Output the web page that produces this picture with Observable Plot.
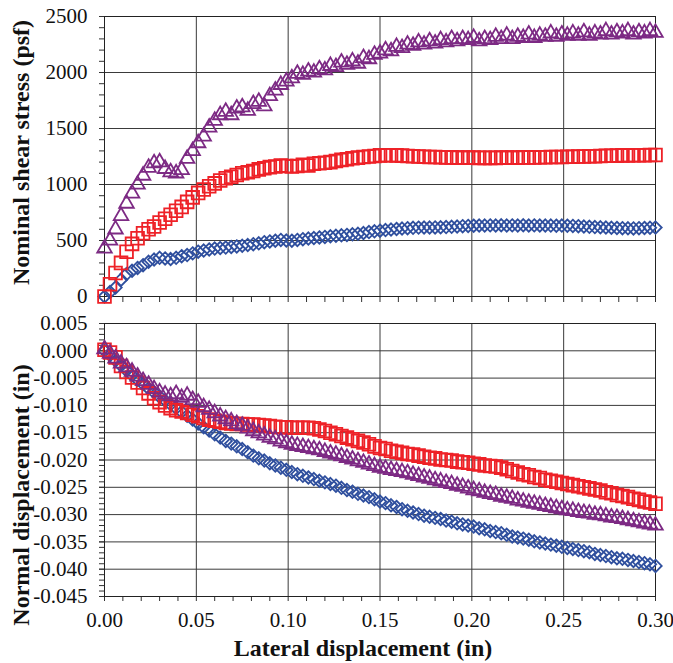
<!DOCTYPE html>
<html><head><meta charset="utf-8">
<script src="https://cdn.jsdelivr.net/npm/d3@7"></script>
<script src="https://cdn.jsdelivr.net/npm/@observablehq/plot@0.6"></script>
<style>
body{margin:0;background:#fff;}
#chart{position:relative;width:673px;height:663px;background:#fff;}
#chart svg{display:block;}
</style></head><body><div id="chart"></div>
<script>
// Lateral displacement (in)
const lateral = [0.000,0.003,0.006,0.009,0.012,0.015,0.018,0.021,0.024,0.027,0.030,0.033,0.036,0.039,0.042,0.045,0.048,0.051,0.054,0.057,0.060,0.063,0.066,0.069,0.072,0.075,0.078,0.081,0.084,0.087,0.090,0.093,0.096,0.099,0.102,0.105,0.108,0.111,0.114,0.117,0.120,0.123,0.126,0.129,0.132,0.135,0.138,0.141,0.144,0.147,0.150,0.153,0.156,0.159,0.162,0.165,0.168,0.171,0.174,0.177,0.180,0.183,0.186,0.189,0.192,0.195,0.198,0.201,0.204,0.207,0.210,0.213,0.216,0.219,0.222,0.225,0.228,0.231,0.234,0.237,0.240,0.243,0.246,0.249,0.252,0.255,0.258,0.261,0.264,0.267,0.270,0.273,0.276,0.279,0.282,0.285,0.288,0.291,0.294,0.297,0.300];

// Nominal shear stress (psf)
const shearDiamond = [0,40,80,150,200,230,255,280,310,330,345,340,335,345,360,370,385,400,410,420,428,433,437,442,447,453,460,467,475,485,492,498,505,500,498,505,512,518,522,527,532,537,542,546,550,555,560,567,575,582,588,593,598,603,607,610,613,615,616,616,617,618,620,622,625,628,630,632,634,634,635,634,636,634,635,634,636,634,635,634,634,633,632,633,632,630,628,625,622,620,618,616,614,612,610,609,608,610,612,614,616];
const shearSquare = [0,110,210,300,400,470,520,565,600,625,660,695,730,765,800,845,885,925,955,985,1010,1035,1055,1070,1085,1100,1110,1120,1135,1145,1155,1160,1170,1165,1160,1165,1175,1170,1185,1190,1195,1200,1210,1220,1225,1235,1240,1245,1250,1255,1260,1262,1262,1260,1258,1255,1252,1250,1248,1245,1245,1243,1242,1242,1240,1240,1240,1240,1238,1238,1238,1238,1240,1240,1240,1240,1242,1242,1242,1243,1243,1245,1245,1245,1247,1248,1250,1250,1252,1253,1255,1256,1257,1258,1260,1260,1261,1262,1262,1263,1263];
const shearTriangle = [430,500,600,720,830,920,1000,1080,1150,1190,1200,1140,1110,1100,1130,1230,1300,1370,1430,1510,1570,1620,1650,1620,1680,1690,1660,1720,1740,1700,1790,1840,1890,1920,1950,1990,1980,2010,2000,2030,2020,2060,2050,2090,2070,2100,2080,2130,2120,2160,2170,2200,2190,2230,2220,2250,2240,2270,2250,2280,2260,2290,2270,2300,2280,2300,2290,2310,2280,2300,2290,2320,2300,2330,2300,2320,2310,2340,2310,2330,2320,2350,2320,2340,2330,2350,2330,2360,2330,2350,2340,2370,2340,2360,2350,2370,2340,2360,2350,2370,2355];

// Normal displacement (in)
const normalDiamond = [0.0000,-0.0008,-0.0018,-0.0027,-0.0036,-0.0045,-0.0053,-0.0061,-0.0069,-0.0076,-0.0084,-0.0091,-0.0098,-0.0105,-0.0112,-0.0119,-0.0126,-0.0133,-0.0140,-0.0146,-0.0153,-0.0159,-0.0165,-0.0170,-0.0175,-0.0180,-0.0186,-0.0192,-0.0197,-0.0201,-0.0206,-0.0210,-0.0214,-0.0218,-0.0222,-0.0226,-0.0229,-0.0232,-0.0235,-0.0238,-0.0241,-0.0244,-0.0247,-0.0251,-0.0255,-0.0258,-0.0262,-0.0265,-0.0268,-0.0272,-0.0276,-0.0279,-0.0283,-0.0286,-0.0290,-0.0293,-0.0296,-0.0299,-0.0302,-0.0304,-0.0306,-0.0308,-0.0311,-0.0313,-0.0316,-0.0318,-0.0320,-0.0322,-0.0325,-0.0327,-0.0330,-0.0332,-0.0334,-0.0337,-0.0340,-0.0342,-0.0344,-0.0346,-0.0349,-0.0351,-0.0353,-0.0355,-0.0357,-0.0359,-0.0361,-0.0363,-0.0365,-0.0367,-0.0369,-0.0372,-0.0374,-0.0376,-0.0378,-0.0380,-0.0381,-0.0383,-0.0385,-0.0387,-0.0389,-0.0391,-0.0394];
const normalSquare = [0.0002,-0.0003,-0.0012,-0.0028,-0.0039,-0.0049,-0.0058,-0.0068,-0.0078,-0.0087,-0.0094,-0.0100,-0.0105,-0.0109,-0.0111,-0.0114,-0.0117,-0.0120,-0.0123,-0.0126,-0.0128,-0.0130,-0.0132,-0.0133,-0.0134,-0.0134,-0.0135,-0.0135,-0.0136,-0.0137,-0.0138,-0.0139,-0.0140,-0.0140,-0.0141,-0.0141,-0.0141,-0.0141,-0.0142,-0.0144,-0.0147,-0.0150,-0.0153,-0.0156,-0.0159,-0.0162,-0.0165,-0.0168,-0.0171,-0.0175,-0.0178,-0.0180,-0.0183,-0.0185,-0.0187,-0.0189,-0.0190,-0.0192,-0.0194,-0.0196,-0.0197,-0.0199,-0.0200,-0.0201,-0.0203,-0.0204,-0.0205,-0.0207,-0.0208,-0.0210,-0.0211,-0.0212,-0.0214,-0.0217,-0.0220,-0.0223,-0.0226,-0.0228,-0.0231,-0.0233,-0.0236,-0.0238,-0.0240,-0.0242,-0.0244,-0.0246,-0.0248,-0.0250,-0.0252,-0.0254,-0.0256,-0.0259,-0.0261,-0.0264,-0.0266,-0.0268,-0.0271,-0.0273,-0.0276,-0.0278,-0.0280];
const normalTriangle = [0.0003,-0.0005,-0.0014,-0.0023,-0.0030,-0.0038,-0.0047,-0.0055,-0.0062,-0.0070,-0.0076,-0.0080,-0.0083,-0.0079,-0.0086,-0.0082,-0.0090,-0.0095,-0.0103,-0.0108,-0.0114,-0.0120,-0.0125,-0.0129,-0.0134,-0.0137,-0.0142,-0.0147,-0.0151,-0.0155,-0.0159,-0.0162,-0.0166,-0.0169,-0.0172,-0.0174,-0.0176,-0.0178,-0.0180,-0.0182,-0.0185,-0.0188,-0.0190,-0.0193,-0.0196,-0.0199,-0.0202,-0.0205,-0.0208,-0.0211,-0.0214,-0.0216,-0.0218,-0.0220,-0.0222,-0.0224,-0.0227,-0.0229,-0.0232,-0.0234,-0.0237,-0.0239,-0.0242,-0.0244,-0.0247,-0.0249,-0.0252,-0.0255,-0.0257,-0.0260,-0.0262,-0.0264,-0.0267,-0.0269,-0.0271,-0.0274,-0.0276,-0.0278,-0.0280,-0.0282,-0.0284,-0.0286,-0.0288,-0.0290,-0.0292,-0.0293,-0.0295,-0.0297,-0.0298,-0.0300,-0.0301,-0.0303,-0.0305,-0.0306,-0.0308,-0.0310,-0.0312,-0.0314,-0.0316,-0.0318,-0.0320];

// Ticks and labels
const xMajor = [0, 0.05, 0.10, 0.15, 0.20, 0.25, 0.30];
const xMinor = [0.01,0.02,0.03,0.04,0.06,0.07,0.08,0.09,0.11,0.12,0.13,0.14,0.16,0.17,0.18,0.19,0.21,0.22,0.23,0.24,0.26,0.27,0.28,0.29];
const yTopTicks = [0, 500, 1000, 1500, 2000, 2500];
const yTopMinor = d3.range(0, 2501, 100);
const yBotTicks = [0.005, 0, -0.005, -0.010, -0.015, -0.020, -0.025, -0.030, -0.035, -0.040, -0.045];
const yBotMinor = d3.range(-45, 6, 1).map(v => v / 1000);
const xTitle = "Lateral displacement (in)";
const yTitleTop = "Nominal shear stress (psf)";
const yTitleBot = "Normal displacement (in)";

const colors = {diamond: "#2f4f9e", square: "#ee2127", triangle: "#7d2a84"};
const font = "'Liberation Serif','Times New Roman',serif";
const gridColor = "#3a3a3a";

const rows = lateral.map((x, i) => ({
  x,
  sd: shearDiamond[i], ss: shearSquare[i], st: shearTriangle[i],
  nd: normalDiamond[i], ns: normalSquare[i], nt: normalTriangle[i]
}));

function dots(yKey, symbol, color, r) {
  return Plot.dot(rows, {x: "x", y: yKey, symbol, r, stroke: color, fill: "none", strokeWidth: 1.8});
}

const topPlot = Plot.plot({
  width: 673, height: 310,
  marginTop: 16, marginBottom: 14, marginLeft: 104, marginRight: 18,
  style: {fontFamily: font, fontSize: "21px", color: "#111", background: "white"},
  x: {domain: [0, 0.3]},
  y: {domain: [0, 2500]},
  marks: [
    Plot.gridX(xMajor, {stroke: gridColor, strokeOpacity: 1}),
    Plot.gridY(yTopTicks, {stroke: gridColor, strokeOpacity: 1}),
    Plot.axisY(yTopMinor, {tickSize: 5, tickFormat: () => "", label: null, stroke: "#333"}),
    Plot.axisY(yTopTicks, {tickSize: 5, tickPadding: 12, tickFormat: d => String(d), label: null, fontSize: 21, stroke: "#333"}),
    Plot.axisX(xMinor.concat(xMajor), {tickSize: 6, tickFormat: () => "", label: null, stroke: "#333"}),
    Plot.frame({stroke: "#222"}),
    dots("sd", "diamond2", colors.diamond, 5.6),
    dots("ss", "square", colors.square, 7.2),
    dots("st", "triangle", colors.triangle, 5.4),
    Plot.text([yTitleTop], {text: d => d, frameAnchor: "left", textAnchor: "middle", lineAnchor: "middle", rotate: -90, dx: -83, dy: -4, fontWeight: "bold", fontSize: 24, fill: "#111"})
  ]
});

const botPlot = Plot.plot({
  width: 673, height: 353,
  marginTop: 13, marginBottom: 67, marginLeft: 104, marginRight: 18,
  style: {fontFamily: font, fontSize: "21px", color: "#111", background: "white"},
  x: {domain: [0, 0.3]},
  y: {domain: [-0.045, 0.005]},
  marks: [
    Plot.gridX(xMajor, {stroke: gridColor, strokeOpacity: 1}),
    Plot.gridY(yBotTicks, {stroke: gridColor, strokeOpacity: 1}),
    Plot.axisY(yBotMinor, {tickSize: 5, tickFormat: () => "", label: null, stroke: "#333"}),
    Plot.axisY(yBotTicks, {tickSize: 5, tickPadding: 12, tickFormat: d => d.toFixed(3), label: null, fontSize: 21, stroke: "#333"}),
    Plot.axisX(xMinor, {tickSize: 5, tickFormat: () => "", label: null, stroke: "#333"}),
    Plot.axisX(xMajor, {tickSize: 5, tickPadding: 11, tickFormat: d => d.toFixed(2), label: null, fontSize: 21, stroke: "#333"}),
    Plot.frame({stroke: "#222"}),
    dots("nd", "diamond2", colors.diamond, 5.6),
    dots("ns", "square", colors.square, 7.2),
    dots("nt", "triangle", colors.triangle, 5.4),
    Plot.text([yTitleBot], {text: d => d, frameAnchor: "left", textAnchor: "middle", lineAnchor: "middle", rotate: -90, dx: -83, dy: 35, fontWeight: "bold", fontSize: 24, fill: "#111"}),
    Plot.text([xTitle], {text: d => d, frameAnchor: "bottom", textAnchor: "middle", lineAnchor: "middle", dx: -17, dy: 52, fontWeight: "bold", fontSize: 24, fill: "#111"})
  ]
});

const chart = document.getElementById("chart");
chart.appendChild(topPlot);
chart.appendChild(botPlot);
</script>
</body></html>
